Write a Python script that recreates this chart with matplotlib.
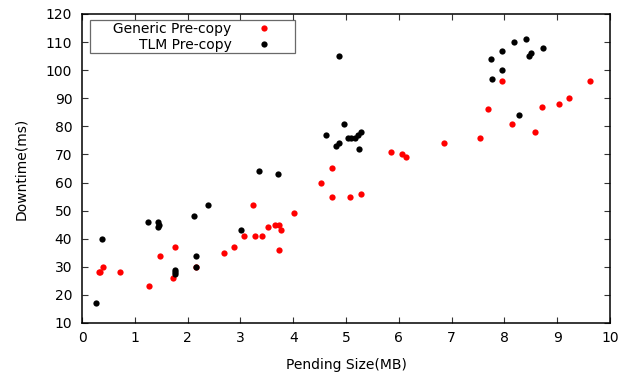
import matplotlib
matplotlib.use("Agg")
import matplotlib.pyplot as plt

# Generic Pre-copy (red)
generic_x = [0.32, 0.35, 0.40, 0.72, 1.26, 1.48, 1.72, 1.77, 2.16, 2.68,
             2.87, 3.07, 3.23, 3.28, 3.40, 3.52, 3.66, 3.73, 3.76, 3.74,
             4.02, 4.53, 4.74, 4.74, 5.08, 5.28, 5.85, 6.06, 6.14, 6.86,
             7.54, 7.69, 7.96, 8.15, 8.58, 8.71, 9.03, 9.23, 9.63]
generic_y = [28, 28, 30, 28, 23, 34, 26, 37, 30, 35,
             37, 41, 52, 41, 41, 44, 45, 45, 43, 36,
             49, 60, 65, 55, 55, 56, 71, 70, 69, 74,
             76, 86, 96, 81, 78, 87, 88, 90, 96]

# TLM Pre-copy (black)
tlm_x = [0.27, 0.37, 1.25, 1.43, 1.45, 1.44, 1.76, 1.76, 1.76, 2.13,
         2.15, 2.15, 2.39, 3.02, 3.35, 3.71, 4.87, 4.62, 4.96, 4.82,
         4.87, 5.04, 5.10, 5.18, 5.23, 5.28, 5.25, 7.74, 7.77, 7.96,
         7.96, 8.18, 8.28, 8.40, 8.46, 8.50, 8.74]
tlm_y = [17, 40, 46, 46, 45, 44, 29, 28, 27.5, 48,
         34, 30, 52, 43, 64, 63, 105, 77, 81, 73,
         74, 76, 76, 76, 77, 78, 72, 104, 97, 107,
         100, 110, 84, 111, 105, 106, 108]

x_ticks = list(range(0, 11))
y_ticks = list(range(10, 121, 10))

plt.rcParams["font.family"] = "DejaVu Sans"
plt.rcParams["font.size"] = 10

fig = plt.figure(figsize=(6.28, 3.74), dpi=100)
ax = fig.add_axes([0.1306, 0.1364, 0.8407, 0.8262])

ax.plot(generic_x, generic_y, "o", color="#ff0000", ms=4.5, mec="none",
        label="     Generic Pre-copy")
ax.plot(tlm_x, tlm_y, "o", color="black", ms=4.5, mec="none",
        label="TLM Pre-copy")

ax.set_xlim(0, 10)
ax.set_ylim(10, 120)
ax.set_xticks(x_ticks)
ax.set_yticks(y_ticks)
ax.tick_params(direction="in", length=4.5, width=0.8, color="#333333",
               top=True, right=True, labelsize=10)
ax.tick_params(axis="x", pad=6)
ax.tick_params(axis="y", pad=7)
for s in ax.spines.values():
    s.set_linewidth(1.1)

ax.set_xlabel("Pending Size(MB)", labelpad=9)
ax.set_ylabel("Downtime(ms)", labelpad=12.5)

leg = ax.legend(loc="upper left", bbox_to_anchor=(0.0142, 0.9805),
                borderaxespad=0, markerfirst=False, frameon=True,
                fancybox=False, borderpad=0.13, labelspacing=0.13,
                handlelength=4.3, handletextpad=0.17, fontsize=10)
leg.get_frame().set_edgecolor("#444444")
leg.get_frame().set_linewidth(0.9)

fig.savefig("out.png", dpi=100)
